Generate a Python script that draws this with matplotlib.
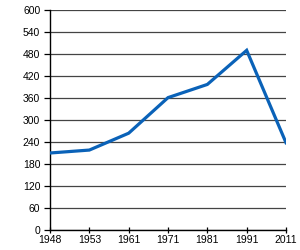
import matplotlib
matplotlib.use("Agg")
import matplotlib.pyplot as plt

years = ["1948", "1953", "1961", "1971", "1981", "1991", "2011"]
values = [210, 218, 264, 361, 397, 490, 238]
yticks = [0, 60, 120, 180, 240, 300, 360, 420, 480, 540, 600]

plt.rcParams['font.family'] = ['Liberation Sans', 'DejaVu Sans']
fig = plt.figure(figsize=(3, 2.5), dpi=100)
ax = fig.add_axes([50/300, 20/250, 236/300, 220/250])
x = list(range(len(years)))
ax.plot(x, values, color="#0a62b8", linewidth=2.3, solid_joinstyle="miter", zorder=3)
ax.set_xlim(0, len(years) - 1)
ax.set_ylim(0, 600)
ax.set_xticks(x)
ax.set_xticklabels(years)
ax.set_yticks(yticks)
ax.grid(axis="y", color="#444444", linewidth=0.9)
ax.set_axisbelow(True)
for s in ["top", "right"]:
    ax.spines[s].set_visible(False)
ax.spines["left"].set_linewidth(1.0)
ax.spines["bottom"].set_linewidth(1.0)
ax.tick_params(axis="y", direction="out", length=4, width=0.9, labelsize=7.5, pad=3)
ax.tick_params(axis="x", direction="inout", length=5, width=0.9, labelsize=7.5, pad=1)
fig.savefig("out.png", dpi=100, facecolor="white")
